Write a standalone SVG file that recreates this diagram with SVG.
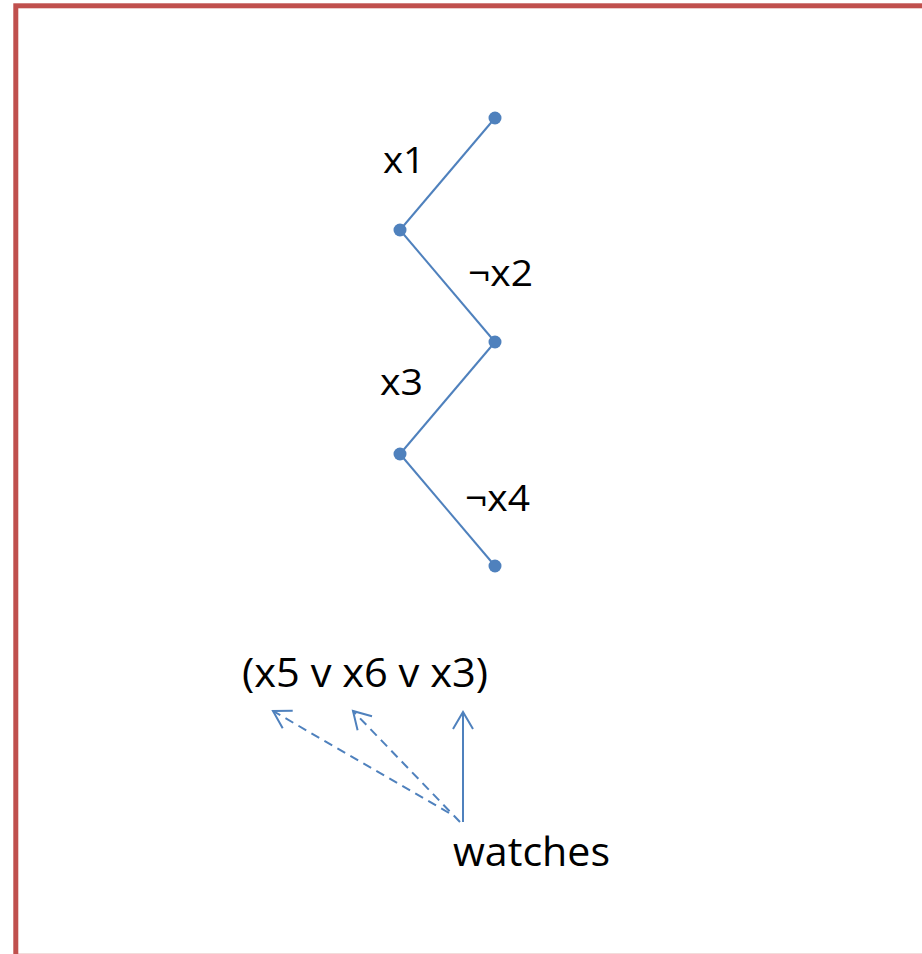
<svg xmlns="http://www.w3.org/2000/svg" width="922" height="954" viewBox="0 0 922 954">
<style>
.t{font-family:"Open Sans","Liberation Sans",sans-serif;font-size:37px;fill:#000}
.b{font-size:41px}
.e{stroke:#4F81BD;stroke-width:2;fill:none}
.d{fill:#4F81BD}
.a{stroke:#4F81BD;stroke-width:2;fill:none}
.dash{stroke-dasharray:9 6}
</style>
<defs>
<marker id="arr" markerUnits="userSpaceOnUse" markerWidth="24" markerHeight="24" viewBox="-20 -12 24 24" refX="0" refY="0" orient="auto">
<path d="M-17,-10 L0,0 L-17,10" fill="none" stroke="#4F81BD" stroke-width="2"/>
</marker>
</defs>
<rect x="15.8" y="5.8" width="940" height="950.5" fill="#fff" stroke="#C0504D" stroke-width="5"/>
<g id="connectors">
<line class="e" x1="495" y1="118" x2="400" y2="230"/>
<line class="e" x1="400" y1="230" x2="495" y2="342"/>
<line class="e" x1="495" y1="342" x2="400" y2="454"/>
<line class="e" x1="400" y1="454" x2="495" y2="566"/>
<line class="a" x1="463" y1="822" x2="463" y2="712" marker-end="url(#arr)"/>
<line class="a dash" x1="449" y1="813" x2="273" y2="711" marker-end="url(#arr)"/>
<line class="a dash" x1="460" y1="822" x2="353" y2="711" marker-end="url(#arr)"/>
</g>
<g id="n1"><circle class="d" cx="495" cy="118" r="6.5"/></g>
<g id="n2"><circle class="d" cx="400" cy="230" r="6.5"/></g>
<g id="n3"><circle class="d" cx="495" cy="342" r="6.5"/></g>
<g id="n4"><circle class="d" cx="400" cy="454" r="6.5"/></g>
<g id="n5"><circle class="d" cx="495" cy="566" r="6.5"/></g>
<g id="l1"><text class="t" x="383" y="173" textLength="42" lengthAdjust="spacingAndGlyphs">x1</text></g>
<g id="l2"><text class="t" x="468" y="286" textLength="65" lengthAdjust="spacingAndGlyphs">¬x2</text></g>
<g id="l3"><text class="t" x="380" y="395" textLength="43" lengthAdjust="spacingAndGlyphs">x3</text></g>
<g id="l4"><text class="t" x="465" y="511" textLength="65" lengthAdjust="spacingAndGlyphs">¬x4</text></g>
<g id="clause"><text class="t b" x="242" y="687" textLength="246" lengthAdjust="spacingAndGlyphs">(x5 v x6 v x3)</text></g>
<g id="watches"><text class="t b" x="453" y="866" textLength="157" lengthAdjust="spacingAndGlyphs">watches</text></g>
</svg>
